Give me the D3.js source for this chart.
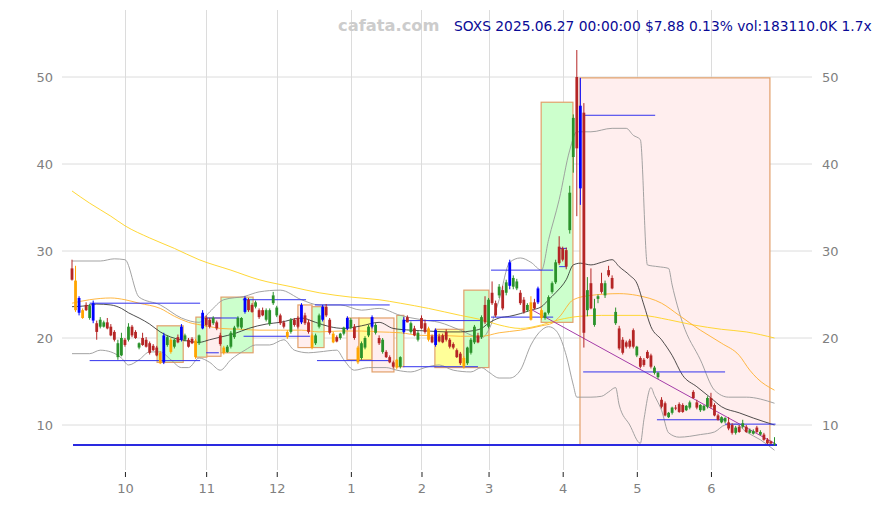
<!DOCTYPE html>
<html><head><meta charset="utf-8">
<script src="https://cdn.jsdelivr.net/npm/d3@7"></script>
<style>body{margin:0;background:#fff}svg{display:block}text{font-family:"DejaVu Sans",sans-serif}</style>
</head><body><svg id="c" width="882" height="505"></svg>
<script>
// ---------- DATA ----------
const tradingDays = {
 "2024-09":[10,11,12,13,16,17,18,19,20,23,24,25,26,27,30],
 "2024-10":[1,2,3,4,7,8,9,10,11,14,15,16,17,18,21,22,23,24,25,28,29,30,31],
 "2024-11":[1,4,5,6,7,8,11,12,13,14,15,18,19,20,21,22,25,26,27,29],
 "2024-12":[2,3,4,5,6,9,10,11,12,13,16,17,18,19,20,23,24,26,27,30,31],
 "2025-01":[2,3,6,7,8,10,13,14,15,16,17,21,22,23,24,27,28,29,30,31],
 "2025-02":[3,4,5,6,7,10,11,12,13,14,18,19,20,21,24,25,26,27,28],
 "2025-03":[3,4,5,6,7,10,11,12,13,14,17,18,19,20,21,24,25,26,27,28,31],
 "2025-04":[1,2,3,4,7,8,9,10,11,14,15,16,17,21,22,23,24,25,28,29,30],
 "2025-05":[1,2,5,6,7,8,9,12,13,14,15,16,19,20,21,22,23,27,28,29,30],
 "2025-06":[2,3,4,5,6,9,10,11,12,13,16,17,18,20,23,24,25,26,27]
};
const dates = [];
Object.entries(tradingDays).forEach(([m, ds]) => ds.forEach(d => dates.push(m + "-" + String(d).padStart(2, "0"))));

const opens = [28.0,26.6,22.9,23.2,23.8,22.3,22.0,21.7,21.3,21.3,21.8,21.3,20.7,17.8,18.0,19.8,19.8,21.3,20.7,18.9,
20.0,19.8,19.4,19.1,18.9,18.3,17.2,19.2,19.8,19.0,20.1,19.8,19.8,19.8,19.9,19.7,19.4,21.1,22.3,22.1,
21.7,21.8,20.3,18.9,18.4,19.0,20.1,21.3,21.2,23.0,24.4,23.8,23.6,23.2,23.2,22.1,21.6,24.0,22.6,22.6,
21.8,20.7,20.7,22.1,22.3,21.8,22.6,21.8,20.3,19.4,21.3,22.1,23.6,22.1,20.5,20.1,20.0,20.5,21.1,21.2,
21.3,18.9,17.7,18.9,20.3,21.3,20.6,20.0,18.4,18.4,17.8,17.2,17.5,16.7,20.7,22.4,20.7,21.1,19.8,22.3,
21.7,21.1,20.2,19.2,20.2,20.3,20.7,19.8,19.3,18.6,18.2,17.7,17.1,18.3,19.5,20.3,20.1,23.8,21.3,25.2,
24.0,24.9,25.5,25.2,26.0,25.9,25.7,25.2,24.4,23.2,24.1,24.1,24.1,23.2,22.3,22.9,25.3,26.4,30.5,30.3,
30.1,32.4,40.8,50.0,37.2,45.9,23.2,26.3,21.5,24.5,26.3,24.9,27.8,26.9,21.7,21.1,19.8,19.5,19.7,20.9,
18.0,17.7,17.5,18.4,18.0,16.0,15.5,12.9,12.5,10.9,11.4,12.0,12.4,12.3,11.7,12.0,13.8,12.6,11.7,11.7,
12.1,13.1,12.3,11.1,10.3,10.4,10.3,10.0,9.1,9.8,9.8,9.8,9.1,9.0,9.7,8.9,8.9,8.3,8.1,7.8];
const highs = [29.0,28.3,24.8,23.4,24.1,23.9,24.3,22.0,22.4,22.0,22.3,21.6,20.9,19.8,20.6,20.0,21.7,21.5,20.9,19.5,
20.6,20.1,19.6,19.3,19.1,18.5,20.6,20.3,20.0,19.9,20.4,21.6,20.5,20.0,20.1,19.9,20.4,23.2,22.6,22.3,
22.5,22.0,20.6,19.1,19.2,20.8,21.4,22.5,22.4,24.8,24.6,24.0,24.3,23.4,23.5,23.4,23.4,25.3,23.7,22.8,
22.0,20.9,22.3,22.3,22.5,24.0,22.9,22.1,20.5,20.5,22.8,23.8,23.9,22.3,20.7,20.3,20.6,21.3,22.5,22.3,
21.6,19.1,19.6,20.2,21.5,22.6,21.7,20.3,20.0,18.6,18.0,17.4,17.6,17.9,22.4,22.6,21.9,21.4,20.8,22.6,
22.1,21.3,20.4,21.1,20.5,20.5,21.0,20.0,19.5,18.8,18.4,17.9,19.0,20.0,21.5,20.6,22.6,24.8,24.6,26.5,
24.3,26.2,26.0,26.7,29.0,27.2,26.8,25.5,24.7,24.0,24.8,24.5,25.9,23.4,23.0,24.9,26.5,29.0,31.7,30.5,
30.4,37.5,45.7,53.1,49.9,47.0,27.0,28.0,24.5,25.0,27.5,26.6,28.3,27.2,23.5,21.4,20.1,19.7,19.9,21.1,
19.1,17.9,17.7,18.6,18.2,16.8,16.1,13.2,12.7,11.5,12.1,12.3,12.6,12.5,12.3,12.8,14.0,12.9,12.4,12.3,
13.3,13.7,12.5,11.3,11.0,10.9,10.9,10.2,9.9,10.0,10.6,10.0,9.6,9.5,9.9,9.4,9.1,8.5,8.2,8.6];
const lows = [26.6,23.0,22.6,22.2,23.1,22.1,21.7,19.8,21.1,21.2,21.0,20.2,19.6,17.5,17.9,19.0,19.6,20.1,19.9,18.7,
19.1,18.9,18.1,18.5,17.9,17.0,17.0,19.0,18.2,18.8,19.4,19.6,19.6,18.9,19.3,17.6,19.2,21.0,21.3,21.1,
21.5,20.9,19.1,18.1,18.3,18.8,19.9,21.1,21.0,22.8,23.0,22.9,23.4,22.2,22.5,21.9,21.4,23.8,22.4,21.5,
21.1,19.9,20.5,21.3,21.1,21.6,21.5,20.5,18.7,19.2,21.1,21.9,22.4,20.4,19.4,19.5,19.8,20.3,20.9,21.0,
19.8,17.0,17.5,18.7,20.1,21.1,20.4,19.2,18.2,17.7,17.1,16.5,16.4,16.5,20.5,21.8,20.5,20.2,19.6,21.0,
20.5,19.6,19.4,19.0,19.5,19.4,19.6,18.8,18.7,17.7,16.9,16.5,16.9,18.1,19.3,19.4,19.9,21.6,21.1,23.8,
22.4,24.6,23.2,24.9,25.6,25.6,25.5,23.8,22.8,23.0,22.0,23.3,23.9,22.1,22.1,22.7,25.1,26.2,28.4,28.8,
27.9,32.0,39.0,34.0,35.3,18.9,22.5,23.3,21.3,24.0,25.1,24.6,27.0,25.6,21.5,18.6,18.1,18.8,18.8,18.8,
17.8,16.5,16.7,17.6,16.5,15.8,15.3,11.9,11.0,10.8,11.2,11.7,11.4,11.4,11.6,11.8,13.0,11.8,11.5,11.6,
11.9,11.9,11.0,10.5,10.2,10.2,9.4,8.9,8.9,9.1,9.6,9.1,9.0,8.9,9.1,8.8,8.2,7.8,7.8,7.6];
const closes = [26.7,23.2,24.6,22.3,23.2,23.7,24.0,20.7,22.1,21.8,21.1,20.3,19.8,19.4,20.0,19.2,21.3,20.3,20.0,19.4,
19.2,19.0,18.3,18.6,18.0,17.1,20.3,20.1,18.4,19.8,19.5,21.3,20.3,19.0,19.4,17.8,20.3,22.9,21.5,21.3,
22.3,21.1,19.3,18.3,19.0,20.6,21.2,22.3,22.3,24.6,23.2,23.0,24.1,22.4,22.6,23.2,23.2,24.9,23.5,21.7,
21.3,20.1,22.1,21.5,21.3,23.8,21.7,20.7,18.9,20.3,22.6,23.6,22.6,20.6,19.5,19.6,20.5,21.2,22.3,22.1,
20.0,17.2,19.4,20.0,21.3,22.4,21.5,19.4,19.8,17.8,17.2,16.7,16.6,17.8,22.1,21.8,21.7,20.3,20.6,21.1,
20.7,19.8,19.5,20.9,19.6,19.5,19.8,19.0,18.9,17.8,17.1,16.7,18.9,19.8,21.3,19.5,22.4,21.8,24.4,24.0,
22.6,25.9,23.4,26.4,28.7,26.9,26.5,24.0,23.0,23.8,22.1,23.4,25.7,22.3,22.9,24.7,26.3,28.7,28.6,29.0,
28.2,36.7,45.3,41.8,46.7,20.6,25.5,23.4,23.4,24.8,25.3,26.3,27.2,25.7,23.0,18.8,18.3,19.0,19.0,19.0,
19.0,16.7,16.9,17.7,16.7,16.6,16.0,12.1,11.1,11.4,12.0,11.9,11.5,11.5,12.2,12.6,13.1,12.0,12.3,12.2,
13.1,12.1,11.1,10.6,10.9,10.8,9.6,9.1,9.7,9.2,10.2,9.2,9.4,9.3,9.2,9.2,8.3,7.9,7.87,7.88];
const blueIdx = [2,6,26,31,37,49,65,71,78,85,94,103,124,132,144];
const orangeIdx = [1,3,25,28,35,43,61,68,74,81,92,101,111,130,133];

// overlay lines: [trading-day index, value]
const bandUpper = [[0,28.85],[8,28.85],[12,29.1],[15,29.0],[19,24.7],[25,23.8],[31,22.3],[36,21.8],[39,23.0],[43,24.4],[49,24.8],[53,25.3],[59,25.5],[65,24.4],[70,23.8],[76,23.8],[82,23.2],[87,23.4],[93,22.6],[99,22.1],[104,21.8],[110,20.9],[116,20.0],[118,20.9],[121,24.4],[124,28.7],[127,29.2],[130,28.7],[133,27.8],[135,31.3],[138,35.9],[141,41.6],[143,43.7],[147,43.7],[153,44.1],[157,44.1],[159,43.3],[161,42.8],[163,28.4],[166,28.2],[169,28.0],[170,26.1],[173,21.7],[178,17.5],[182,14.0],[186,13.2],[191,13.2],[199,12.5]];
const bandLower = [[0,18.2],[5,18.2],[8,18.6],[11,18.4],[14,17.7],[16,16.9],[19,17.5],[22,18.4],[25,18.4],[28,17.5],[31,16.6],[33,16.6],[36,17.7],[39,17.2],[42,16.3],[45,17.5],[49,18.6],[52,19.2],[56,19.2],[60,19.8],[63,18.6],[67,18.3],[70,18.4],[75,18.6],[77,17.5],[80,16.3],[84,16.6],[89,16.6],[92,16.3],[96,16.1],[100,16.6],[104,16.9],[108,16.3],[113,16.1],[116,16.6],[118,16.1],[121,15.4],[124,15.4],[127,16.3],[130,19.2],[133,20.9],[135,21.3],[137,20.9],[138,20.3],[140,18.0],[142,14.6],[143,13.2],[147,13.2],[150,13.3],[152,13.8],[154,14.3],[155,12.3],[158,10.0],[161,7.9],[162,10.6],[164,14.3],[165,13.4],[167,11.7],[169,9.1],[172,8.6],[178,8.9],[182,9.2],[185,10.0],[188,10.1],[191,9.2],[195,8.3],[199,7.1]];
const maMid = [[0,23.6],[4,23.7],[7,23.9],[11,23.8],[14,23.4],[16,22.9],[19,22.3],[22,21.6],[25,20.7],[28,20.1],[31,19.8],[36,19.5],[39,19.8],[42,20.1],[46,20.5],[50,21.1],[55,21.6],[59,21.8],[65,22.3],[69,21.8],[73,21.3],[77,21.1],[82,21.4],[87,21.8],[91,21.1],[96,20.9],[101,20.8],[106,20.7],[110,20.7],[113,20.8],[116,21.1],[118,21.7],[121,22.3],[124,22.5],[127,22.8],[130,23.2],[133,23.6],[135,24.4],[137,25.2],[140,26.7],[142,28.4],[144,28.6],[147,28.4],[150,28.7],[153,29.0],[155,28.2],[158,27.2],[160,26.3],[162,23.8],[164,21.3],[167,19.8],[170,18.0],[173,15.7],[177,14.4],[181,13.1],[184,12.1],[189,11.4],[193,10.8],[199,10.0]];
const maOrange = [[0,24.0],[5,24.4],[11,24.6],[15,24.4],[19,24.0],[25,23.4],[29,22.5],[33,21.8],[38,21.4],[42,21.1],[48,21.0],[53,20.9],[59,20.9],[65,20.9],[70,20.7],[76,20.8],[82,20.8],[87,20.7],[93,20.6],[99,20.3],[104,20.3],[110,20.2],[116,20.2],[121,20.6],[127,20.9],[133,21.4],[136,21.7],[138,22.4],[142,24.4],[147,24.9],[155,25.1],[160,24.9],[167,24.0],[172,22.6],[178,20.9],[184,19.4],[189,18.0],[192,16.3],[194,15.4],[199,14.0]];
const maYellow = [[0,36.9],[5,35.5],[11,34.0],[15,32.9],[22,31.5],[29,30.3],[36,29.0],[45,27.8],[53,26.7],[62,25.9],[70,25.2],[79,24.7],[87,24.4],[93,24.0],[101,23.4],[110,22.6],[116,22.1],[121,21.5],[127,21.1],[133,21.5],[138,22.1],[144,22.5],[150,22.6],[161,22.6],[169,22.1],[176,21.5],[184,21.0],[191,20.7],[199,20.0]];
const trendLine = [[130,23.3],[199,7.9]];

// support/resistance segments: [startIdx, endIdx, value]
const levels = [[5,36.3,24.0],[5,36.3,17.4],[38,47.3,22.3],[38,41.6,18.3],[48.4,66.3,24.4],[48.6,67.4,20.2],
 [68.8,90,23.8],[69.4,90,17.4],[93.8,115.6,22.0],[93.8,115,16.7],[118.7,136.3,27.8],[118.7,136.3,22.4],
 [137.7,140.2,30.3],[138,140.2,28.2],[144.8,165.2,45.6],[144.8,185,16.1],[165.7,185,10.6],[185,199.3,10.1]];
const baseLevel = 7.7;

// boxes: [startIdx, endIdx, low, high, kind]
const boxes = [[24.1,31.5,17.2,21.4,"g"],[35.1,38.2,17.8,22.4,"g"],[38.2,42.2,17.9,22.3,"p"],[42.2,51.3,18.3,24.7,"g"],
 [64,68,18.9,23.8,"p"],[68,71.4,18.9,23.6,"g"],[77.9,81.3,17.5,22.3,"p"],[81.3,85,17.5,22.3,"y"],[85,91.2,16.1,22.3,"p"],
 [92,94,16.7,22.6,"g"],[102.8,111,16.6,21.0,"y"],[111,118.1,16.6,25.5,"g"],[132.9,141.9,21.8,47.1,"g"],[143.9,197.7,7.7,49.9,"p"]];

const yTicks = [10,20,30,40,50];
const monthNames = ["1","2","3","4","5","6","7","8","9","10","11","12"];

// ---------- DRAW ----------
const svg = d3.select("#c");
svg.append("rect").attr("width",882).attr("height",505).attr("fill","#fff");
const x = d3.scaleLinear().domain([0, dates.length - 1]).range([72, 774.5]);
const y = d3.scaleLinear().domain([10, 50]).range([425, 77]);

const monthStarts = [];
dates.forEach((d, i) => { if (i > 0 && d.slice(0,7) !== dates[i-1].slice(0,7)) monthStarts.push(i); });

const grid = svg.append("g");
grid.selectAll("line.h").data(yTicks).join("line")
  .attr("x1",62).attr("x2",812).attr("y1",d=>y(d)).attr("y2",d=>y(d))
  .attr("stroke","#dcdcdc").attr("stroke-width",1);
grid.selectAll("line.v").data(monthStarts).join("line")
  .attr("x1",d=>Math.round(x(d))+0.5).attr("x2",d=>Math.round(x(d))+0.5).attr("y1",10).attr("y2",470)
  .attr("stroke","#dcdcdc").attr("stroke-width",1);

// boxes
const boxFill = {g:"#ccffcc", p:"#ffeeee", y:"#ffff99"};
svg.append("g").selectAll("rect").data(boxes).join("rect")
  .attr("x",d=>x(d[0])).attr("width",d=>x(d[1])-x(d[0]))
  .attr("y",d=>y(d[3])).attr("height",d=>y(d[2])-y(d[3]))
  .attr("fill",d=>boxFill[d[4]]).attr("stroke","#e2a06a").attr("stroke-width",1.2);

// lines
const line = d3.line().x(d=>x(d[0])).y(d=>y(d[1])).curve(d3.curveMonotoneX);
const lg = svg.append("g").attr("fill","none");
lg.append("path").attr("d",line(bandUpper)).attr("stroke","#999").attr("stroke-width",0.9);
lg.append("path").attr("d",line(bandLower)).attr("stroke","#999").attr("stroke-width",0.9);
lg.append("path").attr("d",line(maYellow)).attr("stroke","#ffd21f").attr("stroke-width",0.9);
lg.append("path").attr("d",line(maOrange)).attr("stroke","#ffb030").attr("stroke-width",0.9);
lg.append("path").attr("d",line(maMid)).attr("stroke","#222").attr("stroke-width",0.8);
lg.append("path").attr("d",d3.line().x(d=>x(d[0])).y(d=>y(d[1]))(trendLine)).attr("stroke","#a43ca8").attr("stroke-width",1);

// levels
svg.append("g").selectAll("line").data(levels).join("line")
  .attr("x1",d=>x(d[0])).attr("x2",d=>x(d[1])).attr("y1",d=>y(d[2])).attr("y2",d=>y(d[2]))
  .attr("stroke","#3333ee").attr("stroke-width",1);
svg.append("line").attr("x1",x(0)+1).attr("x2",x(dates.length-1)+2.5)
  .attr("y1",y(baseLevel)).attr("y2",y(baseLevel)).attr("stroke","#2a2ae0").attr("stroke-width",2);

// candles
const bset = new Set(blueIdx), oset = new Set(orangeIdx);
const candles = dates.map((d,i)=>({i, o:opens[i], h:highs[i], l:lows[i], c:closes[i]}));
const col = d => bset.has(d.i) ? "#0000ff" : oset.has(d.i) ? "#ffa500" : (d.c >= d.o ? "#2a922a" : "#b52525");
const cg = svg.append("g");
cg.selectAll("line").data(candles).join("line")
  .attr("x1",d=>x(d.i)).attr("x2",d=>x(d.i)).attr("y1",d=>y(d.h)).attr("y2",d=>y(d.l))
  .attr("stroke",col).attr("stroke-width",1);
cg.selectAll("rect").data(candles).join("rect")
  .attr("x",d=>x(d.i)-1.4).attr("width",2.8)
  .attr("y",d=>y(Math.max(d.o,d.c))).attr("height",d=>Math.max(1, y(Math.min(d.o,d.c))-y(Math.max(d.o,d.c))))
  .attr("fill",col);

// axes
const axB = svg.append("g").attr("transform","translate(0,472)")
  .call(d3.axisBottom(x).tickValues(monthStarts).tickSize(5).tickPadding(7)
    .tickFormat(i=>monthNames[+dates[i].slice(5,7)-1]));
axB.select(".domain").remove();
axB.selectAll(".tick line").attr("stroke","#222");
const axL = svg.append("g").attr("transform","translate(62,0)")
  .call(d3.axisLeft(y).tickValues(yTicks).tickSize(0).tickPadding(9));
const axR = svg.append("g").attr("transform","translate(812,0)")
  .call(d3.axisRight(y).tickValues(yTicks).tickSize(0).tickPadding(10));
[axB,axL,axR].forEach(a=>{a.select(".domain").remove();
  a.selectAll("text").attr("fill","#808080").attr("font-size",13).attr("font-family","DejaVu Sans, sans-serif");});

// titles
svg.append("text").attr("x",338).attr("y",31).attr("font-size",16.3).attr("font-weight","bold")
  .attr("fill","#cccccc").text("cafata.com");
svg.append("text").attr("x",454).attr("y",31).attr("font-size",13.8).attr("fill","#0a0a96")
  .text("SOXS 2025.06.27 00:00:00 $7.88 0.13% vol:183110.0K 1.7x");
</script></body></html>
